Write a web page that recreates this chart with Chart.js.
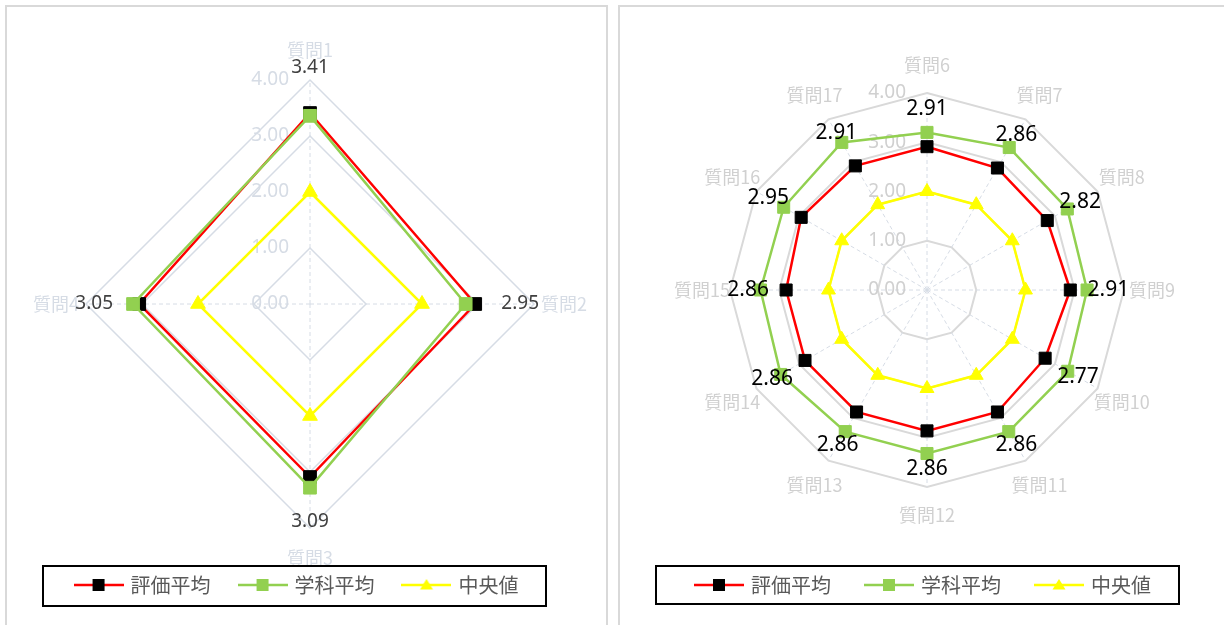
<!DOCTYPE html>
<html>
<head>
<meta charset="utf-8">
<script src="https://cdn.jsdelivr.net/npm/chart.js@4.4.1/dist/chart.umd.min.js"></script>
<style>
  html, body { margin:0; padding:0; background:#fff; width:1224px; height:625px; overflow:hidden; }
  .panel { position:absolute; top:5px; border:2px solid #d9d9d9; background:#fff; }
  #p1 { left:5px; width:599px; height:640px; }
  #p2 { left:618px; width:620px; height:640px; }
  canvas { position:absolute; left:0; top:0; }
</style>
</head>
<body>
<div class="panel" id="p1"><canvas id="c1" width="599" height="618"></canvas></div>
<div class="panel" id="p2"><canvas id="c2" width="604" height="618"></canvas></div>
<script>
// ---- data ----
const seriesNames = ['評価平均', '学科平均', '中央値'];
const leftCategories = ['質問1', '質問2', '質問3', '質問4'];
const leftHyouka = [3.41, 2.95, 3.09, 3.05];
const leftGakka = [3.36, 2.78, 3.28, 3.16];
const leftMedian = [2, 2, 2, 2];
const rightCategories = ['質問6', '質問7', '質問8', '質問9', '質問10', '質問11', '質問12', '質問13', '質問14', '質問15', '質問16', '質問17'];
const rightHyouka = [2.91, 2.86, 2.82, 2.91, 2.77, 2.86, 2.86, 2.86, 2.86, 2.86, 2.95, 2.91];
const rightGakka = [3.20, 3.34, 3.29, 3.25, 3.30, 3.32, 3.32, 3.32, 3.43, 3.38, 3.36, 3.46];
const rightMedian = [2, 2, 2, 2, 2, 2, 2, 2, 2, 2, 2, 2];
const axisMin = 0, axisMax = 4, axisStep = 1;

const RED = '#ff0000', GREEN = '#92d050', YELLOW = '#ffff00', BLACK = '#000000';
const CJK = "'Noto Sans CJK JP', 'Noto Sans', sans-serif";
const NUM = "'Noto Sans', 'Open Sans', sans-serif";

function legendIcon(lineColor, shape, markColor) {
  const c = document.createElement('canvas');
  c.width = 50; c.height = 20;
  const g = c.getContext('2d');
  g.strokeStyle = lineColor; g.lineWidth = 2.5;
  g.beginPath(); g.moveTo(0, 10); g.lineTo(50, 10); g.stroke();
  g.fillStyle = markColor;
  if (shape === 'rect') {
    g.fillRect(19, 4, 12, 12);
  } else {
    g.beginPath(); g.moveTo(25, 4); g.lineTo(31.5, 14.5); g.lineTo(18.5, 14.5); g.closePath(); g.fill();
  }
  return c;
}
const icons = [legendIcon(RED, 'rect', BLACK), legendIcon(GREEN, 'rect', GREEN), legendIcon(YELLOW, 'tri', YELLOW)];

function makeChart(id, cats, s1, s2, s3, cfg) {
  const placeScale = (scale) => {
    scale.xCenter = cfg.cx; scale.yCenter = cfg.cy; scale.drawingArea = cfg.r;
    const items = scale._pointLabelItems;
    if (!items) return;
    const lh = cfg.plSize * 1.2;
    items.forEach((it, i) => {
      const p = scale.getPointPosition(i, cfg.r + cfg.plDist);
      const w = it.right - it.left, h = it.bottom - it.top;
      it.x = p.x; it.y = p.y - lh / 2; it.textAlign = 'center';
      it.left = p.x - w / 2; it.right = p.x + w / 2; it.top = it.y; it.bottom = it.y + h;
    });
  };
  const plugin = {
    id: 'extras' + id,
    beforeDatasetsDraw(chart) {
      const s = chart.scales.r, ctx = chart.ctx;
      ctx.save();
      ctx.font = cfg.tickFont; ctx.fillStyle = cfg.tickColor;
      ctx.textAlign = 'right'; ctx.textBaseline = 'middle';
      s.ticks.forEach(t => {
        const d = s.getDistanceFromCenterForValue(t.value);
        ctx.fillText(t.label, s.xCenter - 21, s.yCenter - d);
      });
      ctx.restore();
    },
    afterDatasetsDraw(chart) {
      const s = chart.scales.r, ctx = chart.ctx;
      const vals = chart.data.datasets[0].data;
      ctx.save();
      ctx.font = cfg.labelFont; ctx.fillStyle = cfg.labelColor;
      ctx.textAlign = 'center'; ctx.textBaseline = 'middle';
      vals.forEach((v, i) => {
        const p = s.getPointPosition(i, s.getDistanceFromCenterForValue(v) + cfg.labelOffset);
        ctx.fillText(v.toFixed(2), p.x, p.y);
      });
      ctx.restore();
    },
    afterDraw(chart) {
      const hb = chart.legend && chart.legend.legendHitBoxes;
      if (!hb || !hb.length) return;
      const ctx = chart.ctx;
      let l = Infinity, r = -Infinity, t = Infinity, b = -Infinity;
      hb.forEach(h => { l = Math.min(l, h.left); r = Math.max(r, h.left + h.width); t = Math.min(t, h.top); b = Math.max(b, h.top + h.height); });
      ctx.save();
      ctx.strokeStyle = '#000'; ctx.lineWidth = 2;
      ctx.strokeRect(Math.round(l - cfg.boxL), Math.round(t - 9), Math.round(r - l + cfg.boxL + cfg.boxR), Math.round(b - t + cfg.boxB));
      ctx.restore();
    }
  };
  return new Chart(document.getElementById(id), {
    type: 'radar',
    data: {
      labels: cats,
      datasets: [
        { label: seriesNames[0], data: s1, borderColor: RED, borderWidth: 2.5, pointStyle: 'rect',
          pointBackgroundColor: BLACK, pointBorderColor: BLACK, pointBorderWidth: 1, pointRadius: cfg.pr, fill: false, order: 2 },
        { label: seriesNames[1], data: s2, borderColor: GREEN, borderWidth: 2.5, pointStyle: 'rect',
          pointBackgroundColor: GREEN, pointBorderColor: GREEN, pointBorderWidth: 1, pointRadius: cfg.pr, fill: false, order: 1 },
        { label: seriesNames[2], data: s3, borderColor: YELLOW, borderWidth: 2.5, pointStyle: 'triangle',
          pointBackgroundColor: YELLOW, pointBorderColor: YELLOW, pointBorderWidth: 1, pointRadius: cfg.tr, fill: false, order: 3 }
      ]
    },
    options: {
      responsive: false, animation: false, devicePixelRatio: 1,
      layout: { padding: cfg.pad },
      elements: { line: { tension: 0 } },
      plugins: {
        tooltip: { enabled: false },
        legend: {
          position: 'bottom',
          labels: {
            usePointStyle: true, pointStyleWidth: 44, padding: cfg.legPad,
            font: { family: CJK, size: 20 }, color: '#595959',
            generateLabels: (chart) => chart.data.datasets.map((ds, i) => ({
              text: ds.label, pointStyle: icons[i], datasetIndex: i, hidden: false,
              fontColor: '#595959', lineWidth: 0, strokeStyle: 'rgba(0,0,0,0)', fillStyle: 'rgba(0,0,0,0)'
            }))
          }
        }
      },
      scales: {
        r: {
          min: axisMin, max: axisMax,
          ticks: { stepSize: axisStep, display: false, callback: v => Number(v).toFixed(2) },
          grid: { color: cfg.gridColor, lineWidth: cfg.gridWidth },
          angleLines: { color: '#d6dce5', lineWidth: 1, borderDash: [4, 3] },
          pointLabels: { font: { family: CJK, size: cfg.plSize, lineHeight: 1.2 }, color: cfg.plColor, padding: 0 },
          afterFit: placeScale
        }
      }
    },
    plugins: [plugin]
  });
}

makeChart('c1', leftCategories, leftHyouka, leftGakka, leftMedian, {
  cx: 303, cy: 297, r: 224, plDist: 30, plSize: 18, plColor: '#d6dce5',
  tickFont: "19px " + NUM, tickColor: '#d6dce5',
  labelFont: "19px " + NUM, labelColor: '#404040', labelOffset: 45,
  gridColor: '#d6dce5', gridWidth: 1.5, pr: 9, tr: 8.5, legPad: 30,
  pad: { left: 0, right: 18, bottom: 20, top: 0 }, boxL: 34, boxR: 27, boxB: 20
});
makeChart('c2', rightCategories, rightHyouka, rightGakka, rightMedian, {
  cx: 307, cy: 283, r: 197, plDist: 28, plSize: 18, plColor: '#d0d0d0',
  tickFont: "19px " + NUM, tickColor: '#d0d0d0',
  labelFont: "21px " + NUM, labelColor: '#000000', labelOffset: 38,
  gridColor: '#d9d9d9', gridWidth: 2, pr: 8.5, tr: 8, legPad: 36,
  pad: { left: 4, right: 0, bottom: 20, top: 0 }, boxL: 41, boxR: 28, boxB: 18
});
</script>
</body>
</html>
